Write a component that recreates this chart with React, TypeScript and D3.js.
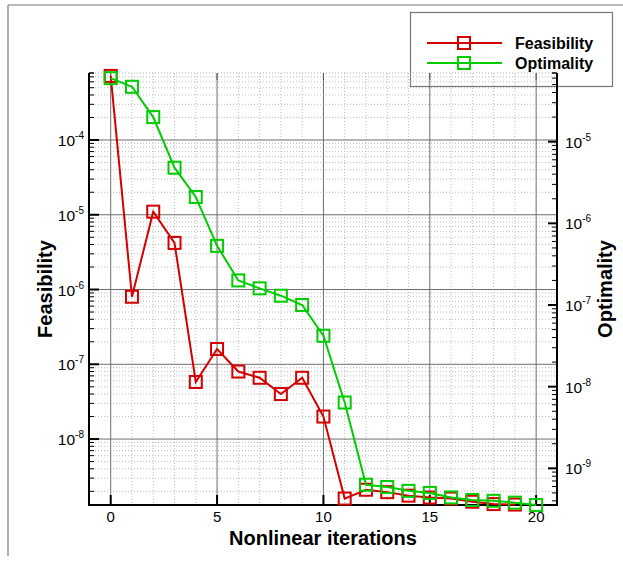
import React from "react";
import * as d3 from "d3";

// iteration index for each point
const iterations = d3.range(0, 21);

// feasibility residual (left axis), iterations 0..19
const feasibility = [
  7.2e-4, 8.0e-7, 1.1e-5, 4.2e-6, 5.8e-8, 1.6e-7, 8.0e-8, 6.6e-8, 4.0e-8,
  6.6e-8, 2.0e-8, 1.6e-9, 2.1e-9, 1.95e-9, 1.75e-9, 1.65e-9, 1.6e-9, 1.45e-9,
  1.35e-9, 1.33e-9,
];

// optimality residual (right axis), iterations 0..20
const optimality = [
  6.0e-5, 4.7e-5, 2.0e-5, 4.8e-6, 2.1e-6, 5.3e-7, 2.0e-7, 1.6e-7, 1.3e-7,
  1.0e-7, 4.2e-8, 6.4e-9, 6.3e-10, 5.9e-10, 5.3e-10, 5.0e-10, 4.4e-10, 4.1e-10,
  4.0e-10, 3.8e-10, 3.55e-10,
];

const xTicks = [0, 5, 10, 15, 20];
const leftExps = [-4, -5, -6, -7, -8];
const rightExps = [-5, -6, -7, -8, -9];

const seriesList = [
  { name: "Feasibility", values: feasibility, color: "#d40000", axis: "left" },
  { name: "Optimality", values: optimality, color: "#00cc00", axis: "right" },
];

const W = 623;
const H = 562;
const L = 89;
const R = 557;
const T = 73;
const B = 505;
const FONT = "'Liberation Sans', Arial, Helvetica, sans-serif";

export default function App() {
  const x = d3.scaleLinear().domain([-1.02, 20.98]).range([L, R]);
  const yL = d3
    .scaleLog()
    .domain([Math.pow(10, -8.882), Math.pow(10, -3.104)])
    .range([B, T]);
  const yR = d3
    .scaleLog()
    .domain([Math.pow(10, -9.449), Math.pow(10, -4.159)])
    .range([B, T]);

  // log ticks (1..9 x decade) inside the visible range
  const minors = (s: d3.ScaleLogarithmic<number, number>) => {
    const [lo, hi] = s.domain();
    const out: { v: number; major: boolean }[] = [];
    for (let e = Math.floor(Math.log10(lo)); e <= Math.ceil(Math.log10(hi)); e++) {
      for (let m = 1; m <= 9; m++) {
        const v = m * Math.pow(10, e);
        if (v >= lo && v <= hi) out.push({ v, major: m === 1 });
      }
    }
    return out;
  };

  const leftTicks = minors(yL);
  const rightTicks = minors(yR);
  const xMinor = d3.range(0, 21).filter((d) => d % 5 !== 0);

  const lineFor = (s: d3.ScaleLogarithmic<number, number>) =>
    d3
      .line<number>()
      .x((_, i) => x(iterations[i]))
      .y((d) => s(d));

  const sq = 12;

  return (
    <svg
      width={W}
      height={H}
      style={{ position: "absolute", left: 0, top: 0, background: "#fff" }}
      fontFamily={FONT}
    >
      {/* outer frame */}
      <line x1={8} y1={5} x2={W} y2={5} stroke="#777" strokeWidth={1.2} />
      <line x1={8} y1={5} x2={8} y2={556} stroke="#777" strokeWidth={1.2} />

      {/* legend box */}
      <rect x={410.5} y={12.5} width={202} height={74} fill="none" stroke="#777" strokeWidth={1.2} />

      {/* grid */}
      {xMinor.map((d) => (
        <line key={"vx" + d} x1={x(d)} x2={x(d)} y1={T} y2={B} stroke="#aaa" strokeWidth={0.8} strokeDasharray="1,2" />
      ))}
      {leftTicks
        .filter((t) => !t.major)
        .map((t) => (
          <line key={"hy" + t.v} x1={L} x2={R} y1={yL(t.v)} y2={yL(t.v)} stroke="#aaa" strokeWidth={0.8} strokeDasharray="1,2" />
        ))}
      <line x1={L} x2={R} y1={T} y2={T} stroke="#999" strokeWidth={0.8} strokeDasharray="1,2" />
      {xTicks.map((d) => (
        <line key={"gx" + d} x1={x(d)} x2={x(d)} y1={T} y2={B} stroke="#6e6e6e" strokeWidth={1} />
      ))}
      {leftExps.map((e) => (
        <line key={"gy" + e} x1={L} x2={R} y1={yL(Math.pow(10, e))} y2={yL(Math.pow(10, e))} stroke="#6e6e6e" strokeWidth={1} />
      ))}

      {/* axes */}
      <line x1={L} x2={L} y1={T} y2={B + 1} stroke="#000" strokeWidth={2} />
      <line x1={R} x2={R} y1={T} y2={B + 1} stroke="#000" strokeWidth={2} />
      <line x1={L - 1} x2={R + 1} y1={B} y2={B} stroke="#000" strokeWidth={2} />
      <line x1={L} x2={L + 5} y1={T} y2={T} stroke="#000" strokeWidth={1.5} />
      <line x1={R - 5} x2={R} y1={T} y2={T} stroke="#000" strokeWidth={1.5} />

      {/* left ticks */}
      {leftTicks.map((t) => (
        <line key={"lt" + t.v} x1={L} x2={L + (t.major ? 10 : 5)} y1={yL(t.v)} y2={yL(t.v)} stroke="#000" strokeWidth={t.major ? 2 : 1} />
      ))}
      {/* right ticks */}
      {rightTicks.map((t) => (
        <line key={"rt" + t.v} x1={R} x2={R - (t.major ? 9 : 5)} y1={yR(t.v)} y2={yR(t.v)} stroke="#000" strokeWidth={t.major ? 2 : 1} />
      ))}
      {/* bottom & top ticks */}
      {xTicks.map((d) => (
        <g key={"bt" + d}>
          <line x1={x(d)} x2={x(d)} y1={B} y2={B - 10} stroke="#000" strokeWidth={2} />
          <line x1={x(d)} x2={x(d)} y1={T} y2={T + 7} stroke="#555" strokeWidth={1} />
          <text x={x(d)} y={522} textAnchor="middle" fontSize={15}>
            {d}
          </text>
        </g>
      ))}

      {/* left labels */}
      {leftExps.map((e) => (
        <text key={"ll" + e} x={84} y={yL(Math.pow(10, e)) + 6} textAnchor="end" fontSize={15.5}>
          10
          <tspan fontSize={10} dy={-7}>
            {e}
          </tspan>
        </text>
      ))}
      {/* right labels */}
      {rightExps.map((e) => (
        <text key={"rl" + e} x={565} y={yR(Math.pow(10, e)) + 6} fontSize={15.5}>
          10
          <tspan fontSize={10} dy={-7}>
            {e}
          </tspan>
        </text>
      ))}

      {/* axis titles */}
      <text x={323} y={545} textAnchor="middle" fontSize={20} fontWeight="bold">
        Nonlinear iterations
      </text>
      <text transform="translate(52,289) rotate(-90)" textAnchor="middle" fontSize={20} fontWeight="bold">
        Feasibility
      </text>
      <text transform="translate(612,289) rotate(-90)" textAnchor="middle" fontSize={20} fontWeight="bold">
        Optimality
      </text>

      {/* series */}
      {seriesList.map((s) => {
        const sc = s.axis === "left" ? yL : yR;
        return (
          <g key={s.name}>
            <path d={lineFor(sc)(s.values) || ""} fill="none" stroke={s.color} strokeWidth={2} />
            {s.values.map((v, i) => (
              <rect
                key={i}
                x={x(iterations[i]) - sq / 2}
                y={sc(v) - sq / 2}
                width={sq}
                height={sq}
                fill="none"
                stroke={s.color}
                strokeWidth={2}
              />
            ))}
          </g>
        );
      })}

      {/* legend */}
      {seriesList.map((s, i) => {
        const ly = 43 + i * 20;
        return (
          <g key={"lg" + s.name}>
            <line x1={427} x2={502} y1={ly} y2={ly} stroke={s.color} strokeWidth={2} />
            <rect x={464 - sq / 2} y={ly - sq / 2} width={sq} height={sq} fill="none" stroke={s.color} strokeWidth={2} />
            <text x={515} y={ly + 6} fontSize={16} fontWeight="bold">
              {s.name}
            </text>
          </g>
        );
      })}
    </svg>
  );
}
